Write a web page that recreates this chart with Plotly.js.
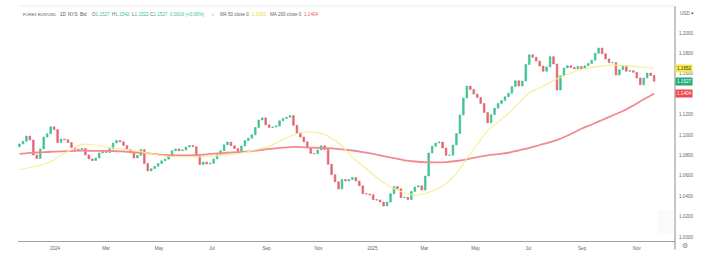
<!DOCTYPE html>
<html>
<head>
<meta charset="utf-8">
<script src="https://cdn.plot.ly/plotly-3.0.1.min.js"></script>
<style>html,body{margin:0;padding:0;background:#fff;}#chart{width:704px;height:263px;}</style>
</head>
<body>
<div id="chart"></div>
<script>
// ---- DATA ----
const startDate = "2023-11-22";   // first candle
const stepDays = 4;               // one candle per 4 calendar days
const firstOpen = 1.0885;
const closes = [
1.0912,1.0938,1.0990,1.0951,1.0804,1.0770,1.0863,1.0980,1.1013,1.1081,
1.1053,1.0926,1.0961,1.0955,1.0926,1.0877,1.0861,1.0858,1.0868,1.0804,
1.0765,1.0750,1.0775,1.0824,1.0848,1.0828,1.0866,1.0922,1.0946,1.0933,
1.0898,1.0858,1.0826,1.0775,1.0801,1.0857,1.0721,1.0647,1.0670,1.0693,
1.0721,1.0747,1.0763,1.0789,1.0846,1.0863,1.0846,1.0853,1.0882,1.0897,
1.0885,1.0794,1.0711,1.0735,1.0716,1.0722,1.0765,1.0809,1.0846,1.0904,
1.0931,1.0895,1.0868,1.0838,1.0892,1.0945,1.0968,1.1002,1.1074,1.1147,
1.1168,1.1100,1.1074,1.1078,1.1088,1.1139,1.1162,1.1174,1.1190,1.1095,
1.1015,1.0980,1.0933,1.0875,1.0819,1.0817,1.0853,1.0894,1.0858,1.0713,
1.0611,1.0542,1.0471,1.0564,1.0549,1.0564,1.0584,1.0549,1.0502,1.0424,
1.0422,1.0414,1.0366,1.0363,1.0343,1.0304,1.0343,1.0425,1.0495,1.0473,
1.0386,1.0389,1.0368,1.0447,1.0490,1.0502,1.0461,1.0598,1.0824,1.0889,
1.0921,1.0931,1.0873,1.0801,1.0802,1.0902,1.1015,1.1196,1.1363,1.1480,
1.1446,1.1402,1.1368,1.1309,1.1221,1.1120,1.1199,1.1263,1.1309,1.1338,
1.1375,1.1409,1.1475,1.1532,1.1480,1.1529,1.1691,1.1786,1.1762,1.1725,
1.1676,1.1625,1.1667,1.1768,1.1696,1.1441,1.1581,1.1657,1.1680,1.1662,
1.1650,1.1672,1.1649,1.1678,1.1702,1.1734,1.1801,1.1853,1.1797,1.1746,
1.1709,1.1710,1.1588,1.1640,1.1680,1.1625,1.1630,1.1615,1.1559,1.1492,
1.1559,1.1607,1.1583,1.1527
];
// moving averages, one value every 3rd candle
const maEvery = 3;
const ma50 = [
1.0659,1.0681,1.0703,1.0737,1.0804,1.0855,1.0908,1.0904,1.0889,1.0875,
1.0862,1.0847,1.0830,1.0811,1.0794,1.0787,1.0787,1.0787,1.0787,1.0798,
1.0807,1.0817,1.0836,1.0863,1.0890,1.0941,1.0985,1.1024,1.1029,1.1016,
1.0968,1.0892,1.0781,1.0696,1.0613,1.0533,1.0475,1.0433,1.0408,1.0426,
1.0463,1.0522,1.0624,1.0770,1.0909,1.1041,1.1127,1.1213,1.1314,1.1414,
1.1462,1.1515,1.1565,1.1608,1.1643,1.1663,1.1676,1.1686,1.1680,1.1673,
1.1664,1.1652
];
const ma200 = [
1.0814,1.0824,1.0830,1.0836,1.0840,1.0843,1.0846,1.0845,1.0844,1.0843,
1.0838,1.0831,1.0824,1.0814,1.0804,1.0801,1.0799,1.0804,1.0811,1.0819,
1.0826,1.0833,1.0840,1.0850,1.0863,1.0873,1.0882,1.0882,1.0877,1.0873,
1.0868,1.0860,1.0848,1.0833,1.0814,1.0794,1.0773,1.0752,1.0740,1.0733,
1.0731,1.0735,1.0745,1.0762,1.0784,1.0801,1.0812,1.0826,1.0850,1.0873,
1.0902,1.0931,1.0963,1.1010,1.1061,1.1103,1.1147,1.1191,1.1235,1.1290,
1.1350,1.1404
];
const monthTicks = ["2024-01-02","2024-03-01","2024-05-01","2024-07-01","2024-09-02","2024-11-01",
                    "2025-01-02","2025-03-03","2025-05-01","2025-07-01","2025-09-01","2025-11-03"];
const monthLabels = ["2024","Mar","May","Jul","Sep","Nov","2025","Mar","May","Jul","Sep","Nov"];
// 1.1400 sits under the red MA-200 price tag in the reference, so it is not listed
const priceTicks = [1.00,1.02,1.04,1.06,1.08,1.10,1.12,1.16,1.18,1.20];

// ---- build ----
const t0 = Date.parse(startDate + "T00:00:00Z");
const dates = closes.map((_, i) => new Date(t0 + i * stepDays * 86400000).toISOString().slice(0, 10));
const opens = closes.map((c, i) => i === 0 ? firstOpen : closes[i - 1]);
const highs = closes.map((c, i) => Math.max(c, opens[i]));
const lows = closes.map((c, i) => Math.min(c, opens[i]));
const maDates = dates.filter((d, i) => i % maEvery === 0);

const UP = '#3fc393', DOWN = '#e2666f';
const traces = [
  {type:'candlestick', x:dates, open:opens, high:highs, low:lows, close:closes,
   increasing:{line:{color:UP,width:0.6}, fillcolor:UP},
   decreasing:{line:{color:DOWN,width:0.6}, fillcolor:DOWN},
   whiskerwidth:0, hoverinfo:'skip'},
  {type:'scatter', mode:'lines', x:maDates, y:ma200, line:{color:'#f28a90', width:1.8, shape:'spline'}, hoverinfo:'skip'},
  {type:'scatter', mode:'lines', x:maDates, y:ma50, line:{color:'#f7ee8c', width:1.1, shape:'spline'}, hoverinfo:'skip'}
];

// pixel helpers for overlay text (plot area: x 18..675, y 6..241)
const PL = 18, PR = 675, PT = 6, PB = 241;
const px = v => (v - PL) / (PR - PL);
const py = v => (PB - v) / (PB - PT);
const FS = 4.6;
const hdr = (x, text, color, size) => ({xref:'paper', yref:'paper', x:px(x), y:py(14), xanchor:'left', yanchor:'middle',
  text:text, showarrow:false, font:{size:size || FS, color:color || '#666'}});
const G = '#3dbf8c';
const lastClose = closes[closes.length - 1];
const lastMa50 = ma50[ma50.length - 1];
const lastMa200 = ma200[ma200.length - 1];

const annotations = [
  hdr(21, 'FOREX EUR/USD', '#555', 4.0),
  hdr(57.5, '1D', '#555'),
  hdr(65.5, 'NYS', '#555'),
  hdr(78, 'Bid', '#555'),
  hdr(90, 'O<span style="color:' + G + '">1.1527</span>'),
  hdr(110, 'H<span style="color:' + G + '">1.1542</span>'),
  hdr(130, 'L<span style="color:' + G + '">1.1522</span>'),
  hdr(148, 'C<span style="color:' + G + '">1.1527  0.0016 (+0.09%)</span>'),
  hdr(210, '‹', '#777'),
  hdr(218, 'MA 50 close 0', '#666'),
  hdr(250, lastMa50.toFixed(4), '#e9dc3c'),
  hdr(268, 'MA 200 close 0', '#666'),
  hdr(302, lastMa200.toFixed(4), '#ef5a64'),
  {xref:'paper', yref:'paper', x:px(678), y:py(13), xanchor:'left', yanchor:'middle', text:'USD ▾', showarrow:false, font:{size:FS, color:'#666'}},
  {xref:'paper', yref:'y', x:1, y:lastMa50, xanchor:'left', yanchor:'middle', text:lastMa50.toFixed(4), showarrow:false,
   bgcolor:'#f3ea4a', borderpad:1, font:{size:FS, color:'#333'}},
  {xref:'paper', yref:'y', x:1, y:lastClose, xanchor:'left', yanchor:'middle', text:lastClose.toFixed(4), showarrow:false,
   bgcolor:'#22ad76', borderpad:1, font:{size:FS, color:'#fff'}},
  {xref:'paper', yref:'y', x:1, y:lastMa200, xanchor:'left', yanchor:'middle', text:lastMa200.toFixed(4), showarrow:false,
   bgcolor:'#f04850', borderpad:1, font:{size:FS, color:'#fff'}},
  {xref:'paper', yref:'paper', x:px(685), y:py(246), xanchor:'center', yanchor:'middle', text:'⚙', showarrow:false,
   font:{size:7, color:'#888', family:'DejaVu Sans'}}
];

const layout = {
  width:704, height:263,
  margin:{l:PL, r:704 - PR, t:PT, b:263 - PB, pad:0},
  paper_bgcolor:'#ffffff', plot_bgcolor:'#ffffff',
  showlegend:false,
  font:{family:'Liberation Sans, Arial, sans-serif', size:FS, color:'#666'},
  xaxis:{type:'date', range:['2023-11-20 08:00','2025-12-17 02:00'],
    tickvals:monthTicks, ticktext:monthLabels, tickfont:{size:FS, color:'#666'},
    showgrid:false, zeroline:false, showline:true, linecolor:'#a0a0a0', linewidth:1,
    ticks:'', ticklabelstandoff:2, rangeslider:{visible:false}, fixedrange:true},
  yaxis:{side:'right', range:[0.99608, 1.22647],
    tickvals:priceTicks, ticktext:priceTicks.map(v => v.toFixed(4)), tickfont:{size:FS, color:'#666'},
    showgrid:false, zeroline:false, showline:false, ticks:'', ticklabelstandoff:3, fixedrange:true},
  shapes:[
    {type:'line', xref:'paper', yref:'paper', x0:1, x1:1, y0:-0.036, y1:1, line:{color:'#8c8c8c', width:1}},
    {type:'line', xref:'paper', yref:'paper', x0:px(20), x1:1, y0:1, y1:1, line:{color:'#eeeeee', width:1}},
    {type:'rect', xref:'paper', yref:'paper', x0:px(657), x1:px(673), y0:py(233), y1:py(210),
     fillcolor:'rgba(0,0,0,0.018)', line:{width:0}}
  ],
  annotations:annotations
};

Plotly.newPlot('chart', traces, layout, {staticPlot:true, displayModeBar:false});
</script>
</body>
</html>
